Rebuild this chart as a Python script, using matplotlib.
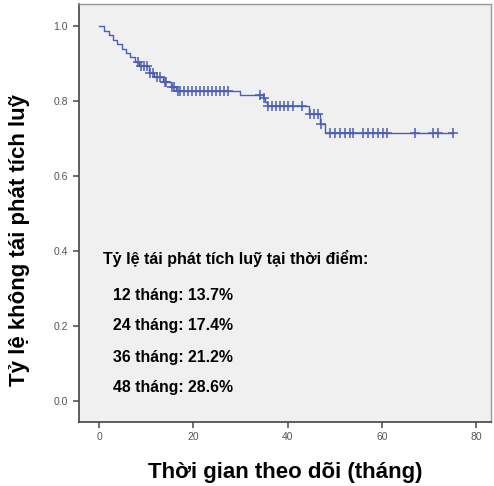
import numpy as np
import matplotlib
matplotlib.use('Agg')
import matplotlib.pyplot as plt

plt.rcParams['font.family'] = ['Liberation Sans', 'DejaVu Sans']

# Kaplan-Meier steps (months, survival after event)
event_t = [0, 1.0, 2.0, 2.9, 3.8, 4.8, 5.6, 6.5, 7.6, 8.5, 10.5, 11.6, 13.5, 15.2, 16.4,
           29.9, 34.7, 35.2, 35.6, 44.5, 46.9, 48.0, 75.1]
event_s = [1.0, 0.988, 0.976, 0.964, 0.952, 0.940, 0.929, 0.917, 0.905, 0.893, 0.875, 0.863,
           0.851, 0.838, 0.826, 0.817, 0.807, 0.798, 0.788, 0.765, 0.740, 0.714, 0.714]

# censored observations (months)
censor_t = [8.2, 8.9, 9.6, 10.2, 10.9, 11.4, 12.3, 12.9, 13.9, 14.3, 15.5, 16.0, 16.7,
            17.2, 18.0, 18.9, 19.7, 20.5, 21.4, 22.2, 23.1, 23.9, 24.8, 25.6, 26.5, 27.3,
            34.1, 34.9, 35.9, 36.6, 37.5, 38.4, 39.3, 40.1, 41.1, 43.0,
            44.7, 45.6, 46.4, 47.2,
            49.0, 50.0, 51.1, 52.1, 53.2, 53.9, 56.0, 57.0, 58.1, 59.2, 60.2, 61.1,
            67.0, 70.8, 71.9, 75.1]

heading = 'Tỷ lệ tái phát tích luỹ tại thời điểm:'
rows = ['12 tháng: 13.7%', '24 tháng: 17.4%', '36 tháng: 21.2%', '48 tháng: 28.6%']

xticks = [0, 20, 40, 60, 80]
yticks = [0.0, 0.2, 0.4, 0.6, 0.8, 1.0]

line_col = '#4c5db4'

F = plt.figure(figsize=(4.94, 4.86), dpi=100)
ax = F.add_axes([0.159, 0.132, 0.835, 0.859])
ax.set_facecolor('#f0f0f0')

ax.step(event_t, event_s, where='post', color=line_col, lw=1.0)

# censor marks sit on the step function
idx = np.searchsorted(event_t, censor_t, side='right') - 1
censor_s = np.array(event_s)[idx]
ax.plot(censor_t, censor_s, ls='none', marker='+', ms=7.5, mew=1.1, color=line_col)

ax.set_xlim(-4.37, 83.2)
ax.set_ylim(-0.056, 1.058)
ax.set_xticks(xticks)
ax.set_yticks(yticks)
ax.set_yticklabels(['{:.1f}'.format(v) for v in yticks])
ax.tick_params(colors='#555555', labelsize=7.5, length=4, width=1.2, direction='out')
ax.tick_params(axis='both', labelcolor='#555555')

for s in ['left', 'bottom']:
    ax.spines[s].set_color('#444444')
    ax.spines[s].set_linewidth(1.2)
for s in ['top', 'right']:
    ax.spines[s].set_color('#999999')
    ax.spines[s].set_linewidth(1.0)

ax.set_xlabel('Thời gian theo dõi (tháng)', fontsize=16, fontweight='bold', labelpad=14)
ax.set_ylabel('Tỷ lệ không tái phát tích luỹ', fontsize=16, fontweight='bold')
ax.yaxis.set_label_coords(-0.118, 0.436)

ax.text(0.8, 0.381, heading, fontsize=11.5, fontweight='bold', va='center', ha='left')
row_y = [0.280, 0.200, 0.117, 0.035]
for r, yy in zip(rows, row_y):
    ax.text(2.9, yy, r, fontsize=11.4, fontweight='bold', va='center', ha='left')

F.savefig('out.png', dpi=100)
